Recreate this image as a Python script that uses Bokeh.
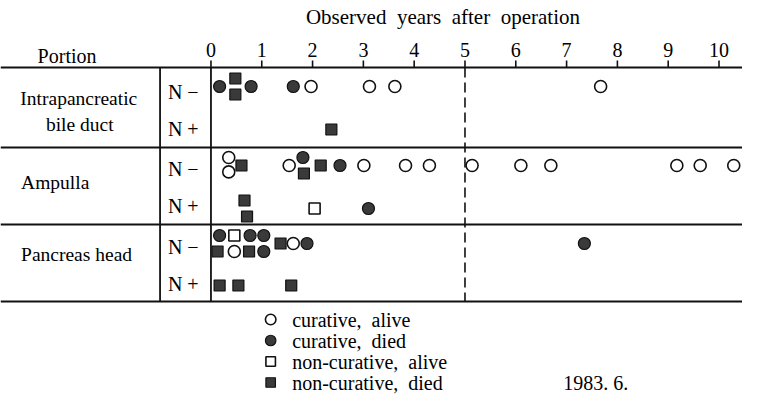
from bokeh.plotting import figure
from bokeh.models import Range1d, ColumnDataSource
from bokeh.embed import file_html
from bokeh.resources import INLINE
from bokeh.core.properties import value

NB = "\u00a0"

# ---------------- data ----------------
tick_years = list(range(0, 11))
tick_labels = [str(t) for t in tick_years]
axis_title = "Observed" + NB + " years" + NB + " after" + NB + " operation"
portion_header = "Portion"
portion_lines = [["Intrapancreatic", "bile duct"], ["Ampulla"], ["Pancreas head"]]
node_labels = ["N \u2212", "N +"]
cutoff_year = 5

# kinds: ca = curative alive, cd = curative died, na = non-curative alive, nd = non-curative died
ip_neg_years = [0.17, 0.48, 0.48, 0.79, 1.62, 1.97, 3.12, 3.62, 7.67]
ip_neg_kind = ["cd", "nd", "nd", "cd", "cd", "ca", "ca", "ca", "ca"]
ip_neg_level = [0, -1, 1, 0, 0, 0, 0, 0, 0]

ip_pos_years = [2.37]
ip_pos_kind = ["nd"]
ip_pos_level = [0]

amp_neg_years = [0.35, 0.35, 0.60, 1.54, 1.81, 1.83, 2.16, 2.54, 3.01, 3.83, 4.30,
                 5.14, 6.10, 6.69, 9.17, 9.63, 10.29]
amp_neg_kind = ["ca", "ca", "nd", "ca", "cd", "nd", "nd", "cd", "ca", "ca", "ca",
                "ca", "ca", "ca", "ca", "ca", "ca"]
amp_neg_level = [-1, 0.8, 0, 0, -1, 1, 0, 0, 0, 0, 0, 0, 0, 0, 0, 0, 0]

amp_pos_years = [0.66, 0.71, 2.04, 3.10]
amp_pos_kind = ["nd", "nd", "na", "cd"]
amp_pos_level = [-1, 1, 0, 0]

ph_neg_years = [0.17, 0.46, 0.77, 1.04, 0.13, 0.46, 0.75, 1.04, 1.37, 1.62, 1.89, 7.35]
ph_neg_kind = ["cd", "na", "cd", "cd", "nd", "ca", "nd", "cd", "nd", "ca", "cd", "cd"]
ph_neg_level = [-1, -1, -1, -1, 1, 1, 1, 1, 0, 0, 0, 0]

ph_pos_years = [0.17, 0.54, 1.58]
ph_pos_kind = ["nd", "nd", "nd"]
ph_pos_level = [0, 0, 0]

legend_kinds = ["ca", "cd", "na", "nd"]
legend_labels = ["curative," + NB + " alive", "curative," + NB + " died",
                 "non-curative," + NB + " alive", "non-curative," + NB + " died"]
date_note = "1983. 6."

# ---------------- layout (reference pixel coordinates) ----------------
W, H = 742, 395
REF_W = 758
X0 = 215.0       # pixel of year 0
PPY = 51.9       # pixels per year
LEVEL_STEP = 8

row_y = [[86, 129], [165, 208], [243, 285]]       # marker rows
label_y = [[91, 128], [168, 205], [246, 283]]     # N-/N+ label rows
sep_y = [67, 147, 224, 301]
FONT = value("Liberation Serif")

p = figure(width=W, height=H, output_backend="svg", toolbar_location=None,
           x_range=Range1d((0 - X0) / PPY, (REF_W - X0) / PPY),
           y_range=Range1d(H, 0),
           x_axis_location=None, y_axis_location=None, min_border=0,
           outline_line_color=None, background_fill_color="white")
p.grid.visible = False
p.extra_x_ranges = {"px": Range1d(0, REF_W)}


def txt(xs, ys, texts, size, align="left", rng="px"):
    kw = dict(x_range_name=rng) if rng else {}
    p.text(x=xs, y=ys, text=texts, text_align=align, text_baseline="middle",
           text_font=FONT, text_font_size=size, text_color="black", **kw)


# separators
p.segment(x0=[0] * 4, x1=[REF_W] * 4, y0=sep_y, y1=sep_y, x_range_name="px",
          line_color="#111111", line_width=2)
p.segment(x0=[163], x1=[163], y0=[sep_y[0]], y1=[sep_y[-1]], x_range_name="px",
          line_color="#111111", line_width=1.8)
p.segment(x0=[0], x1=[0], y0=[sep_y[0]], y1=[sep_y[-1]], line_color="#111111", line_width=1.8)
p.segment(x0=[cutoff_year], x1=[cutoff_year], y0=[sep_y[0]], y1=[sep_y[-1]],
          line_color="#111111", line_width=1.6, line_dash="10 5")

# ticks and labels
p.segment(x0=tick_years, x1=tick_years, y0=[60] * len(tick_years), y1=[sep_y[0]] * len(tick_years),
          line_color="#111111", line_width=1.6)
txt(tick_years, [49] * len(tick_years), tick_labels, "20px", align="center", rng=None)
txt([452], [16], [axis_title], "21px", align="center")
txt([68], [55], [portion_header], "20px", align="center")

# portion labels
txt([80, 81], [98, 124], portion_lines[0], "19.5px", align="center")
txt([21, 21], [182, 254], [portion_lines[1][0], portion_lines[2][0]], "19.5px")

# node labels
for ly in label_y:
    txt([171, 171], ly, node_labels, "20px")

# points
groups = [
    (ip_neg_years, ip_neg_kind, ip_neg_level, row_y[0][0]),
    (ip_pos_years, ip_pos_kind, ip_pos_level, row_y[0][1]),
    (amp_neg_years, amp_neg_kind, amp_neg_level, row_y[1][0]),
    (amp_pos_years, amp_pos_kind, amp_pos_level, row_y[1][1]),
    (ph_neg_years, ph_neg_kind, ph_neg_level, row_y[2][0]),
    (ph_pos_years, ph_pos_kind, ph_pos_level, row_y[2][1]),
]
styles = {
    "ca": dict(marker="circle", size=12, fill_color="white", line_color="#111111", line_width=1.6),
    "cd": dict(marker="circle", size=12, fill_color="#3a3a3a", line_color="#111111", line_width=1.2),
    "na": dict(marker="square", size=11, fill_color="white", line_color="#111111", line_width=1.6),
    "nd": dict(marker="square", size=11, fill_color="#3a3a3a", line_color="#111111", line_width=1.2),
}
pts = {k: {"x": [], "y": []} for k in styles}
for yrs, kinds, levels, cy in groups:
    for x, k, lv in zip(yrs, kinds, levels):
        pts[k]["x"].append(x)
        pts[k]["y"].append(cy + lv * LEVEL_STEP)
for k, st in styles.items():
    p.scatter(x="x", y="y", source=ColumnDataSource(pts[k]), **st)

# legend (drawn manually)
LEG_Y0, LEG_STEP = 319, 21
leg_y = [LEG_Y0 + i * LEG_STEP for i in range(len(legend_kinds))]
for k, ly in zip(legend_kinds, leg_y):
    st = dict(styles[k])
    st["size"] = st["size"] - 1.5
    p.scatter(x=[276], y=[ly], x_range_name="px", **st)
txt([298] * len(legend_labels), leg_y, legend_labels, "20px")
txt([575], [leg_y[-1]], [date_note], "20px")

open("out.html", "w").write(file_html(p, INLINE))
